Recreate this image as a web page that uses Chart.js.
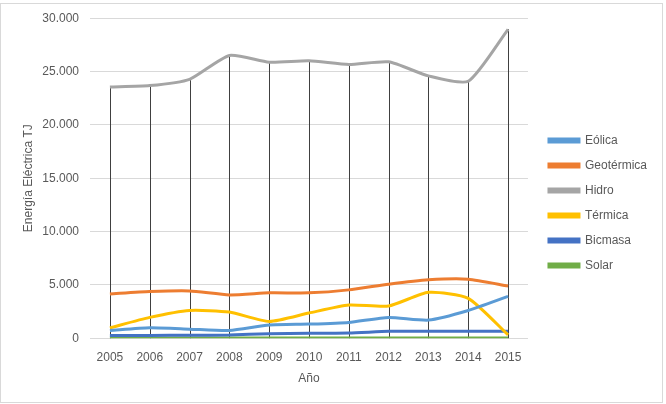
<!DOCTYPE html>
<html>
<head>
<meta charset="utf-8">
<script src="https://cdn.jsdelivr.net/npm/chart.js@4"></script>
<style>
  html, body { margin: 0; padding: 0; background: #fff; }
  #wrap { width: 666px; height: 404px; }
</style>
</head>
<body>
<div id="wrap"><canvas id="energy-chart"></canvas></div>
<script>
const years = ['2005', '2006', '2007', '2008', '2009', '2010', '2011', '2012', '2013', '2014', '2015'];
const eolica = [720, 970, 850, 720, 1230, 1320, 1480, 1950, 1700, 2600, 3920];
const geotermica = [4150, 4370, 4430, 4060, 4250, 4250, 4530, 5060, 5470, 5530, 4900];
const hidro = [23550, 23680, 24270, 26510, 25880, 26010, 25660, 25910, 24590, 24090, 28960];
const termica = [970, 1950, 2600, 2450, 1570, 2360, 3110, 3020, 4300, 3740, 310];
const biomasa = [250, 260, 280, 300, 420, 460, 480, 640, 660, 660, 660];
const solar = [20, 20, 20, 20, 20, 20, 20, 20, 20, 20, 20];
// drop lines go from the highest series (Hidro) down to the axis
const dropLines = hidro;

const grey_text = '#595959';
const grid_color = '#d9d9d9';

const energy_chart = document.getElementById('energy-chart');

function serie(label, data, color) {
  return {
    label: label,
    data: data,
    borderColor: color,
    backgroundColor: color,
    borderWidth: 3,
    pointRadius: 0,
    tension: 0.2
  };
}

const chartBorder = {
  id: 'chartBorder',
  beforeDraw(chart) {
    const ctx = chart.ctx;
    ctx.save();
    ctx.fillStyle = '#fff';
    ctx.fillRect(0, 0, chart.width, chart.height);
    ctx.strokeStyle = grid_color;
    ctx.lineWidth = 1;
    ctx.strokeRect(0.5, 3.5, 662, 399);
    ctx.restore();
  }
};

// thin vertical drop lines, behind the series
const dropLinePlugin = {
  id: 'dropLines',
  beforeDatasetsDraw(chart) {
    const ctx = chart.ctx;
    const x = chart.scales.x;
    const y = chart.scales.y;
    ctx.save();
    ctx.strokeStyle = '#404040';
    ctx.lineWidth = 1;
    ctx.beginPath();
    dropLines.forEach((v, i) => {
      const px = Math.round(x.getPixelForValue(i)) + 0.5;
      ctx.moveTo(px, y.getPixelForValue(v));
      ctx.lineTo(px, y.getPixelForValue(0));
    });
    ctx.stroke();
    ctx.restore();
  }
};

new Chart(energy_chart, {
  type: 'line',
  data: {
    labels: years,
    datasets: [
      serie('Eólica', eolica, '#5B9BD5'),
      serie('Geotérmica', geotermica, '#ED7D31'),
      serie('Hidro', hidro, '#A5A5A5'),
      serie('Térmica', termica, '#FFC000'),
      serie('Bicmasa', biomasa, '#4472C4'),
      serie('Solar', solar, '#70AD47')
    ]
  },
  options: {
    responsive: true,
    maintainAspectRatio: false,
    animation: false,
    layout: {
      padding: { top: 16, right: 9, bottom: 14, left: 21 }
    },
    plugins: {
      tooltip: { enabled: false },
      legend: {
        position: 'right',
        maxWidth: 200,
        labels: {
          boxWidth: 30,
          boxHeight: 3,
          padding: 13,
          color: grey_text,
          font: { family: 'Liberation Sans', size: 12 }
        }
      }
    },
    scales: {
      x: {
        offset: true,
        grid: { display: false },
        border: { display: false },
        ticks: {
          color: grey_text,
          padding: 4,
          font: { family: 'Liberation Sans', size: 12 }
        },
        title: {
          display: true,
          text: 'Año',
          color: grey_text,
          padding: { top: 3 },
          font: { family: 'Liberation Sans', size: 12 }
        }
      },
      y: {
        min: 0,
        max: 30000,
        grid: { color: grid_color, drawTicks: false },
        border: { display: false },
        afterFit: s => { s.width = 69; },
        ticks: {
          stepSize: 5000,
          padding: 11,
          color: grey_text,
          font: { family: 'Liberation Sans', size: 12 },
          callback: v => v === 0 ? '0' : (v / 1000).toFixed(3)
        },
        title: {
          display: true,
          text: 'Energía Eléctrica TJ',
          color: grey_text,
          padding: 0,
          font: { family: 'Liberation Sans', size: 12 }
        }
      },
      yspace: {
        position: 'right',
        display: true,
        grid: { display: false },
        border: { display: false },
        ticks: { display: false },
        afterFit: s => { s.width = 8; }
      }
    }
  },
  plugins: [chartBorder, dropLinePlugin]
});
</script>
</body>
</html>
